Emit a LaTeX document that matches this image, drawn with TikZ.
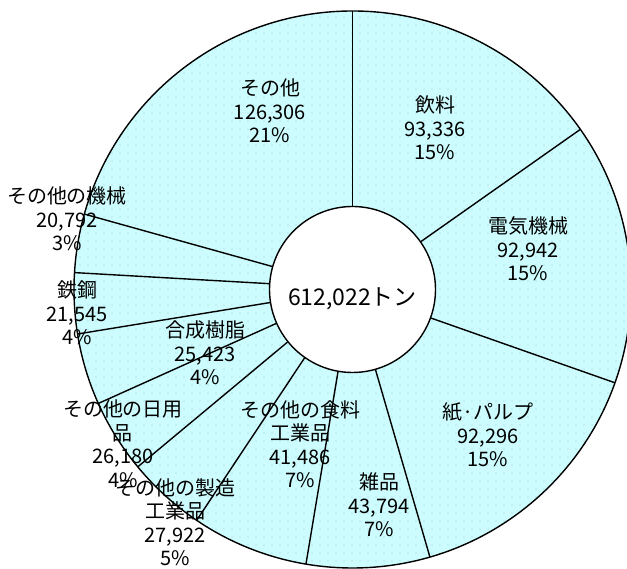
\documentclass[tikz,border=0pt]{standalone}
\usepackage{fontspec}
\setmainfont{Noto Sans CJK JP}
\usetikzlibrary{patterns.meta,calc}
\definecolor{slicefill}{RGB}{204,252,253}
\definecolor{dotcol}{RGB}{165,205,220}
\begin{document}
\begin{tikzpicture}[x=1pt,y=1pt,
  lbl/.style={align=center,font=\fontsize{20}{23.5}\selectfont,inner sep=0pt,text=black},
  sep/.style={line width=1.4pt}]
\useasboundingbox (0,0) rectangle (627,569);
\coordinate (C) at (352.5,279.5);
\fill[slicefill] (C) circle (278.5);
\fill[pattern={Dots[distance=8pt,radius=0.7pt]},pattern color=dotcol] (C) circle (278.5);
\node[circle,draw,line width=1.4pt,fill=white,minimum size=166pt,inner sep=0pt] (ctr) at (C) {};
\foreach \a in {90,35.098,340.429,286.138,260.378,235.975,219.551,204.151,189.197,176.523,164.293}
  \draw[sep] (ctr.\a) -- ($(C)+(\a:278.5)$);
\draw[sep] (C) circle (278.5);
\node[font=\fontsize{23}{28}\selectfont,inner sep=0pt] (tot) at (352.5,270) {612,022トン};
\node[lbl] (s1) at (270,458) {その他\\126,306\\21\%};
\node[lbl] (s2) at (435,441) {飲料\\93,336\\15\%};
\node[lbl] (s3) at (528,320) {電気機械\\92,942\\15\%};
\node[lbl] (s4) at (488,134) {紙·パルプ\\92,296\\15\%};
\node[lbl] (s5) at (379,64) {雑品\\43,794\\7\%};
\node[lbl] (s6) at (300,125) {その他の食料\\工業品\\41,486\\7\%};
\node[lbl] (s7) at (175,47) {その他の製造\\工業品\\27,922\\5\%};
\node[lbl] (s8) at (123,125) {その他の日用\\品\\26,180\\4\%};
\node[lbl] (s9) at (205,216) {合成樹脂\\25,423\\4\%};
\node[lbl] (s10) at (77,256) {鉄鋼\\21,545\\4\%};
\node[lbl] (s11) at (67,350) {その他の機械\\20,792\\3\%};
\end{tikzpicture}
\end{document}
